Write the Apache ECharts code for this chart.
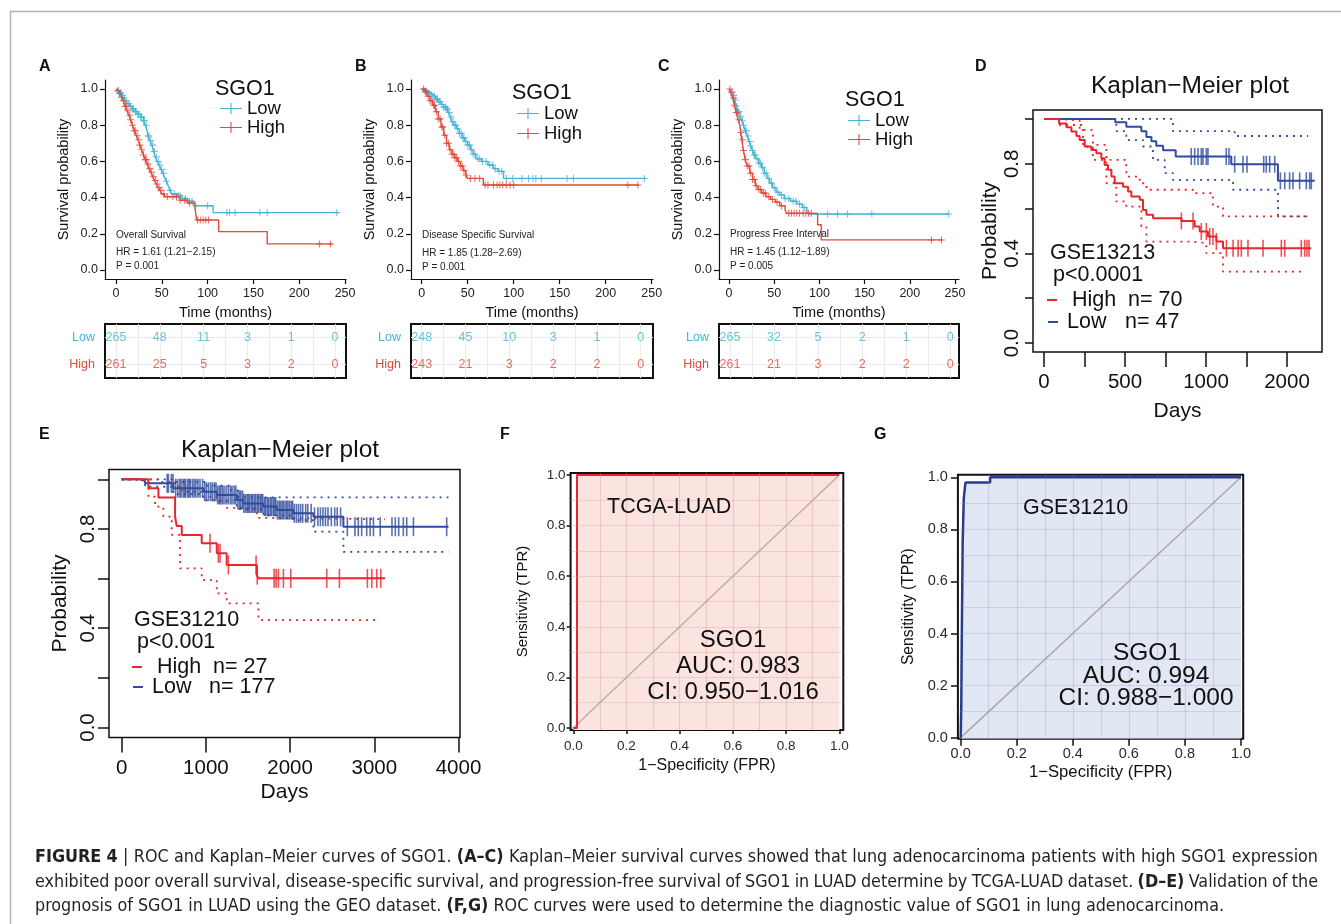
<!DOCTYPE html>
<html><head><meta charset="utf-8">
<script src="https://cdn.jsdelivr.net/npm/echarts@6/dist/echarts.min.js"></script>
<style>html,body{margin:0;padding:0;background:#fff}#c{width:1341px;height:924px}</style>
</head><body><div id="c"></div>
<script>
// ---------------- DATA ----------------
// Panels A-C (TCGA-LUAD, months): [time, survival] step points
const A_LOW = [[0,1],[2,0.99],[4,0.98],[6,0.965],[8,0.95],[10,0.935],[12,0.92],[15,0.905],[18,0.89],[21,0.875],[24,0.86],[27,0.845],[30,0.825],[32,0.80],[34,0.77],[35,0.74],[37,0.715],[39,0.69],[41,0.655],[43,0.625],[45,0.60],[47,0.58],[49,0.555],[51,0.535],[53,0.51],[55,0.49],[57,0.465],[59,0.44],[61,0.42],[66,0.41],[72,0.395],[78,0.38],[85,0.355],[106,0.317],[243,0.317]];
const A_HIGH = [[0,1],[2,0.99],[4,0.975],[6,0.955],[8,0.935],[10,0.905],[12,0.88],[14,0.855],[16,0.83],[18,0.80],[20,0.77],[22,0.745],[24,0.72],[26,0.69],[28,0.665],[30,0.635],[32,0.61],[34,0.585],[36,0.56],[38,0.54],[40,0.515],[42,0.495],[44,0.475],[46,0.455],[48,0.44],[50,0.42],[53,0.405],[70,0.385],[78,0.37],[86,0.35],[88,0.276],[112,0.212],[165,0.144],[236,0.144]];
const A_LOW_CENS = [3,5,7,9,11,12,14,16,18,19,21,22,24,25,27,28,30,31,33,35,36,38,40,42,44,46,48,50,52,55,59,64,68,70,76,80,83,87,100,121,124,130,157,165,241];
const A_HIGH_CENS = [2,4,6,8,10,11,13,15,16,18,20,21,23,25,26,28,30,32,33,35,37,39,41,43,45,47,49,52,56,62,66,70,75,80,89,92,95,98,101,222,234];
const A_RISK_LOW = [265,48,11,3,1,0];
const A_RISK_HIGH = [261,25,5,3,2,0];

const B_LOW = [[0,1],[3,0.99],[6,0.98],[9,0.97],[12,0.96],[15,0.945],[18,0.93],[21,0.915],[24,0.90],[27,0.89],[29,0.87],[31,0.845],[33,0.82],[35,0.80],[38,0.78],[41,0.755],[44,0.73],[47,0.71],[50,0.69],[53,0.665],[56,0.64],[59,0.615],[65,0.60],[72,0.58],[78,0.56],[83,0.545],[89,0.506],[243,0.506]];
const B_HIGH = [[0,1],[3,0.985],[6,0.96],[9,0.935],[12,0.91],[15,0.875],[18,0.835],[21,0.79],[24,0.745],[27,0.70],[30,0.665],[33,0.64],[36,0.62],[39,0.60],[42,0.575],[45,0.55],[48,0.525],[50,0.506],[67,0.47],[236,0.47]];
const B_LOW_CENS = [4,6,8,10,12,14,16,17,19,20,22,24,26,27,28,30,32,34,36,37,39,41,43,45,46,48,50,52,54,56,58,61,63,66,70,74,77,80,84,87,92,99,109,116,121,124,130,158,165,242];
const B_HIGH_CENS = [2,4,5,7,9,11,13,14,16,18,20,22,23,25,27,29,31,33,35,36,38,40,42,44,46,48,53,58,63,69,72,78,82,85,88,92,96,100,224,235];
const B_RISK_LOW = [248,45,10,3,1,0];
const B_RISK_HIGH = [243,21,3,2,2,0];

const C_LOW = [[0,1],[2,0.985],[4,0.965],[6,0.94],[8,0.905],[10,0.875],[12,0.85],[14,0.825],[16,0.80],[18,0.77],[20,0.74],[22,0.71],[24,0.685],[26,0.66],[28,0.635],[30,0.615],[33,0.59],[36,0.565],[39,0.535],[42,0.505],[45,0.48],[48,0.455],[52,0.43],[56,0.415],[61,0.395],[68,0.38],[75,0.365],[81,0.345],[86,0.33],[88,0.309],[243,0.309]];
const C_HIGH = [[0,1],[2,0.98],[4,0.95],[6,0.91],[8,0.87],[10,0.83],[12,0.80],[13,0.76],[14,0.72],[16,0.66],[18,0.61],[20,0.575],[23,0.535],[26,0.50],[29,0.465],[32,0.445],[36,0.425],[41,0.405],[46,0.39],[51,0.375],[56,0.355],[62,0.33],[64,0.313],[98,0.25],[102,0.166],[236,0.166]];
const C_LOW_CENS = [3,5,7,8,10,11,13,15,16,18,19,21,23,24,26,28,29,31,33,35,37,39,41,44,47,50,54,58,62,66,71,74,78,83,109,120,131,158,243];
const C_HIGH_CENS = [1,3,5,6,8,9,11,13,15,16,18,20,22,24,26,28,30,33,35,38,40,44,48,53,58,66,69,72,75,78,82,85,88,91,224,235];
const C_RISK_LOW = [265,32,5,2,1,0];
const C_RISK_HIGH = [261,21,3,2,2,0];

const KM_XTICKS = [0,50,100,150,200,250];
const KM_YTICKS = [0,0.2,0.4,0.6,0.8,1.0];
const RISK_TIMES = [0,50,100,150,200,250];
const RISK_GRID = [0,25,50,75,100,125,150,175,200,225,250];
const RISK_ROWS = ['High','Low'];

// Panel D (GSE13213)
const D_LOW = [[0,1.0],[440,0.985],[508,0.965],[601,0.945],[632,0.92],[663,0.90],[693,0.88],[735,0.86],[813,0.832],[1156,0.798],[1444,0.724],[1671,0.724]];
const D_HIGH = [[0,1.0],[93,0.98],[138,0.963],[169,0.944],[200,0.924],[220,0.906],[251,0.877],[292,0.862],[323,0.847],[354,0.825],[374,0.795],[395,0.773],[416,0.743],[436,0.713],[488,0.698],[519,0.676],[539,0.654],[591,0.639],[611,0.594],[632,0.572],[673,0.557],[848,0.545],[930,0.520],[961,0.498],[1012,0.475],[1064,0.453],[1105,0.423],[1650,0.423]];
const D_LOW_CENS = [909,930,951,971,981,1002,1012,1125,1142,1177,1228,1253,1356,1372,1393,1424,1459,1486,1516,1537,1578,1619,1640,1650];
const D_HIGH_CENS = [848,920,971,1002,1023,1043,1064,1126,1167,1198,1218,1259,1352,1465,1486,1588,1609,1623,1636];
const D_LOW_UP = [[0,1.0],[796,0.946],[1177,0.924],[1630,0.924]];
const D_LOW_LO = [[0,1.0],[446,0.946],[508,0.906],[611,0.877],[673,0.817],[745,0.758],[796,0.728],[1167,0.684],[1444,0.565],[1630,0.565]];
const D_HIGH_UP = [[0,1.0],[97,0.993],[220,0.951],[302,0.884],[385,0.817],[508,0.743],[591,0.713],[632,0.684],[920,0.669],[1043,0.609],[1105,0.565],[1630,0.565]];
const D_HIGH_LO = [[0,1.0],[97,0.973],[241,0.877],[302,0.817],[385,0.713],[446,0.632],[508,0.609],[601,0.520],[632,0.453],[899,0.446],[1002,0.401],[1105,0.319],[1599,0.319]];
const D_XTICKS = [0,250,500,750,1000,1250,1500];
const D_XLABEL_POS = [0,500,1000,1500];
const D_XLABELS = ['0','500','1000','2000'];
const KMP_YTICKS = [0,0.2,0.4,0.6,0.8,1.0];
const KMP_YLABELS = [0,0.4,0.8];

// Panel E (GSE31210)
const E_LOW = [[0,1.0],[218,0.993],[277,0.984],[614,0.964],[970,0.950],[1129,0.937],[1366,0.917],[1445,0.903],[1683,0.890],[1841,0.876],[2039,0.863],[2277,0.849],[2633,0.809],[3881,0.809]];
const E_HIGH = [[0,1.0],[317,0.964],[436,0.927],[634,0.849],[653,0.812],[713,0.776],[950,0.742],[1129,0.702],[1247,0.655],[1604,0.614],[1624,0.601],[3128,0.601]];
const E_LOW_CENS = [540,555,590,610,640,665,690,705,730,748,760,785,800,815,840,860,880,905,930,960,985,1005,1030,1055,1075,1100,1120,1140,1160,1175,1195,1215,1240,1265,1290,1310,1335,1355,1380,1400,1415,1435,1450,1470,1490,1505,1520,1540,1555,1575,1590,1610,1625,1645,1660,1675,1695,1710,1730,1745,1765,1780,1800,1815,1830,1850,1870,1885,1905,1920,1940,1960,1975,1995,2015,2030,2050,2075,2100,2125,2150,2185,2210,2250,2290,2330,2360,2390,2420,2450,2490,2530,2560,2600,2680,2770,2810,2850,2910,2950,2990,3070,3210,3250,3290,3345,3385,3465,3860];
const E_HIGH_CENS = [1049,1148,1168,1267,1596,1610,1810,1834,1861,1921,2008,2435,2586,2918,2970,3029,3077];
const E_LOW_UP = [[0,1.0],[614,0.99],[1000,0.975],[1300,0.955],[1386,0.927],[3881,0.927]];
const E_LOW_LO = [[0,1.0],[277,0.97],[614,0.94],[970,0.915],[1366,0.88],[1683,0.855],[2039,0.835],[2277,0.789],[2633,0.708],[3881,0.708]];
const E_HIGH_UP = [[0,1.0],[436,0.99],[634,0.97],[713,0.95],[950,0.93],[1129,0.91],[1247,0.885],[1604,0.845],[1624,0.839],[3128,0.839]];
const E_HIGH_LO = [[0,1.0],[317,0.93],[396,0.89],[495,0.85],[594,0.776],[693,0.641],[950,0.594],[1129,0.54],[1247,0.50],[1624,0.433],[3049,0.433]];
const E_XTICKS = [0,1000,2000,3000,4000];

// Panels F, G (ROC)
const F_ROC = [[0,0],[0.014,0],[0.014,1],[1,1]];
const G_ROC = [[0,0],[0.002,0.12],[0.004,0.40],[0.007,0.75],[0.011,0.92],[0.017,0.98],[0.105,0.98],[0.105,1.0],[1,1]];
const DIAG = [[0,0],[1,1]];
const ROC_TICKS = [0,0.2,0.4,0.6,0.8,1.0];
const ROC_GRIDLINES = [0.1,0.2,0.3,0.4,0.5,0.6,0.7,0.8,0.9];

// Caption
const CAPTION = [
  [['FIGURE 4',true],['| ROC and Kaplan–Meier curves of SGO1.',false],['(A–C)',true],['Kaplan–Meier survival curves showed that lung adenocarcinoma patients with high SGO1 expression',false]],
  [['exhibited poor overall survival, disease-specific survival, and progression-free survival of SGO1 in LUAD determine by TCGA-LUAD dataset.',false],['(D–E)',true],['Validation of the',false]],
  [['prognosis of SGO1 in LUAD using the GEO dataset.',false],['(F,G)',true],['ROC curves were used to determine the diagnostic value of SGO1 in lung adenocarcinoma.',false]]
];

// ---------------- STYLE ----------------
const FF = '"Liberation Sans", Arial, Helvetica, sans-serif';
const CYAN = '#46B3D3', RED = '#E2493A', KRED = '#E8262B', KBLUE = '#2F4C9E', INK = '#111';
const PLUS = 'path://M-1,-0.15L1,-0.15L1,0.15L-1,0.15Z M-0.15,-1L0.15,-1L0.15,1L-0.15,1Z';
const LEG_ICON = 'path://M0,9L40,9L40,11L0,11Z M19,0L21,0L21,20L19,20Z';

function stepAt(curve, t) { let s = curve[0][1]; for (const p of curve) { if (p[0] <= t) s = p[1]; else break; } return s; }

const grids = [], xAxes = [], yAxes = [], series = [], legends = [], graphics = [];

function txt(text, x, y, size, color, align, bold) {
  return {type: 'text', x, y, z: 100, silent: true,
    style: {text, fill: color || INK, font: (bold ? 'bold ' : '') + size + 'px ' + FF,
      align: align || 'left', textAlign: align || 'left', verticalAlign: 'middle', textVerticalAlign: 'middle'}};
}
function dash(x1, x2, y, color) {
  return {type: 'line', z: 100, silent: true, shape: {x1, y1: y, x2, y2: y}, style: {stroke: color, lineWidth: 2}};
}

function kmPanel(g, cfg) {
  const gi = grids.length;
  grids.push({left: cfg.left, top: 80, width: cfg.width, height: 199});
  xAxes.push({gridIndex: gi, type: 'value', min: cfg.xmin, max: cfg.xmax,
    name: 'Time (months)', nameLocation: 'middle', nameGap: 26,
    nameTextStyle: {fontFamily: FF, fontSize: 14.5, color: INK},
    axisLine: {show: true, onZero: false, lineStyle: {color: INK, width: 1.2}},
    axisTick: {show: true, length: 5, customValues: KM_XTICKS, lineStyle: {color: INK, width: 1.2}},
    axisLabel: {customValues: KM_XTICKS, margin: 8, fontFamily: FF, fontSize: 12.5, color: '#222'},
    splitLine: {show: false}});
  yAxes.push({gridIndex: gi, type: 'value', min: -0.05, max: 1.05,
    name: 'Survival probability', nameLocation: 'middle', nameGap: 34,
    nameTextStyle: {fontFamily: FF, fontSize: 14.5, color: INK},
    axisLine: {show: true, onZero: false, lineStyle: {color: INK, width: 1.2}},
    axisTick: {show: true, length: 5, customValues: KM_YTICKS, lineStyle: {color: INK, width: 1.2}},
    axisLabel: {customValues: KM_YTICKS, margin: 7, formatter: v => v.toFixed(1), fontFamily: FF, fontSize: 12.5, color: '#222'},
    splitLine: {show: false}});
  const add = (name, curve, cens, color) => {
    series.push({type: 'line', name, xAxisIndex: gi, yAxisIndex: gi, data: curve, step: 'end', showSymbol: false,
      lineStyle: {color, width: 1.4}, itemStyle: {color}, silent: true, z: 3});
    series.push({type: 'scatter', name, xAxisIndex: gi, yAxisIndex: gi, data: cens.map(t => [t, stepAt(curve, t)]),
      symbol: PLUS, symbolSize: 7, itemStyle: {color}, silent: true, z: 4});
  };
  add('Low', cfg.low, cfg.lowCens, CYAN);
  add('High', cfg.high, cfg.highCens, RED);

  // risk table (own x scale, as in survminer)
  const ri = grids.length;
  grids.push({left: cfg.left, top: 324, width: cfg.width, height: 54, show: true, borderColor: INK, borderWidth: 2, backgroundColor: 'rgba(0,0,0,0)'});
  xAxes.push({gridIndex: ri, type: 'value', min: cfg.rmin, max: cfg.rmax, show: false, splitLine: {show: false}});
  yAxes.push({gridIndex: ri, type: 'category', data: RISK_ROWS,
    axisLine: {show: false}, axisTick: {show: false}, splitLine: {show: false},
    axisLabel: {margin: 10, fontFamily: FF, fontSize: 12.5, color: v => (v === 'Low' ? CYAN : RED)}});
  const rows = [['Low', cfg.riskLow, CYAN], ['High', cfg.riskHigh, RED]];
  rows.forEach(([row, vals, color], k) => {
    series.push({type: 'scatter', name: 'risk-' + row + g, xAxisIndex: ri, yAxisIndex: ri,
      data: RISK_TIMES.map((t, i) => [t, row, vals[i]]), symbolSize: 0, silent: true,
      label: {show: true, position: 'inside', formatter: p => String(p.value[2]), fontFamily: FF, fontSize: 12.5, color},
      markLine: k === 0 ? {silent: true, symbol: 'none', label: {show: false}, animation: false,
        lineStyle: {color: '#EBEBEB', type: 'solid', width: 1},
        data: RISK_GRID.map(v => ({xAxis: v})).concat(RISK_ROWS.map(r => ({yAxis: r})))} : undefined,
      z: 5});
  });
  legends.push({orient: 'vertical', left: cfg.legLeft, top: cfg.legTop, padding: 0, itemWidth: 22, itemHeight: 11, itemGap: cfg.legGap,
    symbolKeepAspect: false, selectedMode: false,
    data: [{name: 'Low', icon: LEG_ICON}, {name: 'High', icon: LEG_ICON}],
    textStyle: {fontFamily: FF, fontSize: 18.5, color: INK, lineHeight: 18}});
  graphics.push(txt('SGO1', cfg.titleX, cfg.titleY, 21.5));
  cfg.note.forEach((s, i) => graphics.push(txt(s, cfg.noteX, cfg.noteY[i], 10, '#222')));
}

kmPanel('A', {left: 105, width: 241, xmin: -12, xmax: 251, rmin: -12.6, rmax: 262.6,
  low: A_LOW, high: A_HIGH, lowCens: A_LOW_CENS, highCens: A_HIGH_CENS,
  riskLow: A_RISK_LOW, riskHigh: A_RISK_HIGH, legLeft: 220, legTop: 99, legGap: 0, titleX: 215, titleY: 89,
  note: ['Overall Survival', 'HR = 1.61 (1.21−2.15)', 'P = 0.001'], noteX: 116, noteY: [235, 252, 266]});
kmPanel('B', {left: 411, width: 242, xmin: -11.6, xmax: 251.4, rmin: -12.2, rmax: 264,
  low: B_LOW, high: B_HIGH, lowCens: B_LOW_CENS, highCens: B_HIGH_CENS,
  riskLow: B_RISK_LOW, riskHigh: B_RISK_HIGH, legLeft: 517, legTop: 104, legGap: 1, titleX: 512, titleY: 93,
  note: ['Disease Specific Survival', 'HR = 1.85 (1.28−2.69)', 'P = 0.001'], noteX: 422, noteY: [235, 253, 267]});
kmPanel('C', {left: 719, width: 240, xmin: -11.1, xmax: 254.4, rmin: -12.5, rmax: 260,
  low: C_LOW, high: C_HIGH, lowCens: C_LOW_CENS, highCens: C_HIGH_CENS,
  riskLow: C_RISK_LOW, riskHigh: C_RISK_HIGH, legLeft: 848, legTop: 111, legGap: 0, titleX: 845, titleY: 100,
  note: ['Progress Free Interval', 'HR = 1.45 (1.12−1.89)', 'P = 0.005'], noteX: 730, noteY: [234, 252, 266]});

function kmpPanel(tag, cfg) {
  const gi = grids.length;
  grids.push({left: cfg.left, top: cfg.top, width: cfg.width, height: cfg.height, show: true, borderColor: INK, borderWidth: 1.5, backgroundColor: 'rgba(0,0,0,0)'});
  xAxes.push({gridIndex: gi, type: 'value', min: cfg.xmin, max: cfg.xmax,
    name: 'Days', nameLocation: 'middle', nameGap: cfg.xNameGap, nameTextStyle: {fontFamily: FF, fontSize: 21, color: INK},
    axisLine: {show: false, onZero: false}, splitLine: {show: false},
    axisTick: {show: true, length: 15, customValues: cfg.xticks, lineStyle: {color: INK, width: 1.5}},
    axisLabel: {customValues: cfg.xlabelPos, formatter: cfg.xfmt, margin: 20, fontFamily: FF, fontSize: 20.5, color: INK}});
  yAxes.push({gridIndex: gi, type: 'value', min: -0.04, max: 1.04,
    name: 'Probability', nameLocation: 'middle', nameGap: cfg.yNameGap, nameTextStyle: {fontFamily: FF, fontSize: 21, color: INK},
    axisLine: {show: false, onZero: false}, splitLine: {show: false},
    axisTick: {show: true, length: cfg.yTick, customValues: KMP_YTICKS, lineStyle: {color: INK, width: 1.5}},
    axisLabel: {customValues: KMP_YLABELS, rotate: 90, formatter: v => v.toFixed(1), margin: cfg.yLabMargin, fontFamily: FF, fontSize: 20.5, color: INK}});
  const line = (name, data, color, dotted) => series.push({type: 'line', name, xAxisIndex: gi, yAxisIndex: gi, data, step: 'end', showSymbol: false, silent: true,
    lineStyle: {color, width: dotted ? 1.8 : 2, type: dotted ? [2, 5] : 'solid'}, itemStyle: {color}, z: dotted ? 2 : 3});
  const cens = (name, curve, ts, color) => series.push({type: 'scatter', name, xAxisIndex: gi, yAxisIndex: gi,
    data: ts.map(t => [t, stepAt(curve, t)]), symbol: 'rect', symbolSize: [1.6, cfg.censH], itemStyle: {color}, silent: true, z: 4});
  line(tag + ' Low up', cfg.lowUp, KBLUE, true);
  line(tag + ' Low lo', cfg.lowLo, KBLUE, true);
  line(tag + ' High up', cfg.highUp, KRED, true);
  line(tag + ' High lo', cfg.highLo, KRED, true);
  line(tag + ' Low', cfg.low, KBLUE, false);
  line(tag + ' High', cfg.high, KRED, false);
  cens(tag + ' Low c', cfg.low, cfg.lowCens, KBLUE);
  cens(tag + ' High c', cfg.high, cfg.highCens, KRED);
}

kmpPanel('D', {left: 1033, top: 110, width: 289, height: 242, xmin: -68, xmax: 1716,
  xticks: D_XTICKS, xlabelPos: D_XLABEL_POS, xfmt: v => D_XLABELS[D_XLABEL_POS.indexOf(v)],
  xNameGap: 49, yNameGap: 32, yTick: 8, yLabMargin: 10, censH: 17,
  low: D_LOW, high: D_HIGH, lowCens: D_LOW_CENS, highCens: D_HIGH_CENS,
  lowUp: D_LOW_UP, lowLo: D_LOW_LO, highUp: D_HIGH_UP, highLo: D_HIGH_LO});
kmpPanel('E', {left: 109, top: 469.4, width: 351, height: 268, xmin: -151, xmax: 4018,
  xticks: E_XTICKS, xlabelPos: E_XTICKS, xfmt: v => String(v),
  xNameGap: 44, yNameGap: 38, yTick: 11, yLabMargin: 10, censH: 19,
  low: E_LOW, high: E_HIGH, lowCens: E_LOW_CENS, highCens: E_HIGH_CENS,
  lowUp: E_LOW_UP, lowLo: E_LOW_LO, highUp: E_HIGH_UP, highLo: E_HIGH_LO});

function rocPanel(tag, cfg) {
  const gi = grids.length;
  grids.push({left: cfg.left, top: cfg.top, width: cfg.width, height: cfg.height, show: true, borderColor: INK, borderWidth: 2, backgroundColor: '#fff'});
  xAxes.push({gridIndex: gi, type: 'value', min: cfg.xmin, max: cfg.xmax,
    name: '1−Specificity (FPR)', nameLocation: 'middle', nameGap: cfg.xNameGap, nameTextStyle: {fontFamily: FF, fontSize: cfg.nameSize + 1, color: INK},
    axisLine: {show: false, onZero: false}, splitLine: {show: false},
    axisTick: {show: true, length: cfg.tick, customValues: ROC_TICKS, lineStyle: {color: INK, width: 1.5}},
    axisLabel: {customValues: ROC_TICKS, formatter: v => v.toFixed(1), margin: cfg.xLabMargin, fontFamily: FF, fontSize: cfg.labSize, color: '#2a2a2a'}});
  yAxes.push({gridIndex: gi, type: 'value', min: cfg.ymin, max: cfg.ymax,
    name: 'Sensitivity (TPR)', nameLocation: 'middle', nameGap: cfg.yNameGap, nameTextStyle: {fontFamily: FF, fontSize: cfg.nameSize, color: INK},
    axisLine: {show: false, onZero: false}, splitLine: {show: false},
    axisTick: {show: true, length: cfg.tick, customValues: ROC_TICKS, lineStyle: {color: INK, width: 1.5}},
    axisLabel: {customValues: ROC_TICKS, formatter: v => v.toFixed(1), margin: cfg.yLabMargin, fontFamily: FF, fontSize: cfg.labSize, color: '#2a2a2a'}});
  series.push({type: 'line', name: tag + ' area', xAxisIndex: gi, yAxisIndex: gi, data: cfg.roc, showSymbol: false, silent: true,
    lineStyle: {width: 0}, areaStyle: {color: cfg.fill, opacity: 1, origin: 'start'}, z: 1});
  series.push({type: 'line', name: tag + ' diag', xAxisIndex: gi, yAxisIndex: gi, data: DIAG, showSymbol: false, silent: true,
    lineStyle: {color: cfg.diag, width: 1.5}, z: 3,
    markLine: {silent: true, symbol: 'none', label: {show: false}, animation: false,
      lineStyle: {color: cfg.gridCol, type: 'solid', width: 1.2},
      data: ROC_GRIDLINES.map(v => ({xAxis: v})).concat(ROC_GRIDLINES.map(v => ({yAxis: v})))}});
  series.push({type: 'line', name: tag + ' ROC', xAxisIndex: gi, yAxisIndex: gi, data: cfg.roc, showSymbol: false, silent: true,
    lineStyle: {color: cfg.line, width: cfg.lineW}, z: 4});
}
rocPanel('F', {left: 570.6, top: 473, width: 272.7, height: 257, xmin: -0.01, xmax: 1.015, ymin: -0.008, ymax: 1.008,
  roc: F_ROC, fill: '#FBE3E0', gridCol: 'rgba(200,150,130,0.30)', diag: '#BCAFA8', line: '#E8262B', lineW: 2,
  tick: 4, xLabMargin: 9, yLabMargin: 5, labSize: 13.5, nameSize: 15, xNameGap: 28, yNameGap: 40});
rocPanel('G', {left: 957.9, top: 474.7, width: 285.3, height: 264, xmin: -0.01, xmax: 1.008, ymin: -0.004, ymax: 1.01,
  roc: G_ROC, fill: '#E2E7F4', gridCol: 'rgba(140,150,185,0.28)', diag: '#A9A9B2', line: '#2A3C90', lineW: 2.5,
  tick: 7, xLabMargin: 8, yLabMargin: 10, labSize: 14.5, nameSize: 15.7, xNameGap: 25, yNameGap: 41});

// ---- annotations ----
[['A',39,67],['B',355,67],['C',658,67],['D',975,67],['E',39,435],['F',500,435],['G',874,435]].forEach(([t,x,y]) => graphics.push(txt(t, x, y, 16, INK, 'left', true)));
graphics.push(txt('Kaplan−Meier plot', 1190, 86, 24.5, INK, 'center'));
graphics.push(txt('Kaplan−Meier plot', 280, 450, 24.5, INK, 'center'));
graphics.push(txt('GSE13213', 1050, 253, 21.5));
graphics.push(txt('p<0.0001', 1053, 275, 21.5));
graphics.push(dash(1047, 1057, 300, KRED));
graphics.push(txt('High', 1072, 300, 21.5));
graphics.push(txt('n= 70', 1128, 300, 21.5));
graphics.push(dash(1048, 1058, 322, KBLUE));
graphics.push(txt('Low', 1067, 322, 21.5));
graphics.push(txt('n= 47', 1125, 322, 21.5));
graphics.push(txt('GSE31210', 134, 620, 21.5));
graphics.push(txt('p<0.001', 137, 642, 21.5));
graphics.push(dash(132, 142, 667, KRED));
graphics.push(txt('High', 157, 667, 21.5));
graphics.push(txt('n= 27', 213, 667, 21.5));
graphics.push(dash(133, 143, 687, KBLUE));
graphics.push(txt('Low', 152, 687, 21.5));
graphics.push(txt('n= 177', 209, 687, 21.5));
graphics.push(txt('TCGA-LUAD', 607, 507, 21.5));
graphics.push(txt('SGO1', 733, 640, 24, INK, 'center'));
graphics.push(txt('AUC: 0.983', 738, 666, 24, INK, 'center'));
graphics.push(txt('CI: 0.950−1.016', 733, 692, 24, INK, 'center'));
graphics.push(txt('GSE31210', 1023, 508, 21.5));
graphics.push(txt('SGO1', 1147, 653, 24.5, INK, 'center'));
graphics.push(txt('AUC: 0.994', 1146, 676, 24.5, INK, 'center'));
graphics.push(txt('CI: 0.988−1.000', 1146, 698, 24.5, INK, 'center'));
graphics.push({type: 'rect', z: 0, silent: true, shape: {x: 10.5, y: 11.5, width: 1400, height: 1000}, style: {fill: 'none', stroke: '#B4B4B4', lineWidth: 1.5}});

// ---- caption (justified) ----
(function () {
  const ctx = document.createElement('canvas').getContext('2d');
  const probe = 'abcdefghijklmnopqrstuvwxyz ABCDEFG 0123456789';
  ctx.font = '40px monospace'; const base = ctx.measureText(probe).width;
  let fam = null;
  for (const f of ['Liberation Sans Narrow', 'DejaVu Sans Condensed', 'Roboto Condensed']) {
    ctx.font = '40px "' + f + '", monospace';
    if (Math.abs(ctx.measureText(probe).width - base) > 0.5) { fam = f; break; }
  }
  const famCSS = (fam ? '"' + fam + '", ' : '') + '"Liberation Sans", sans-serif';
  const fontOf = (b, s) => (b ? 'bold ' : '') + s + 'px ' + famCSS;
  const words = CAPTION.map(line => {
    const out = [];
    line.forEach(([t, b]) => t.split(' ').forEach(w => { if (w) out.push([w, b]); }));
    return out;
  });
  const measure = (ws, s) => {
    let sum = 0; ws.forEach(([w, b]) => { ctx.font = fontOf(b, s); sum += ctx.measureText(w).width; });
    ctx.font = fontOf(false, s); return {sum, space: ctx.measureText(' ').width};
  };
  const m20 = measure(words[2], 20);
  const nat20 = m20.sum + m20.space * (words[2].length - 1);
  const size = 20 * 1190 / nat20;
  const X0 = 35, FULLW = 1283, ys = [857, 882, 906];
  words.forEach((ws, li) => {
    const m = measure(ws, size);
    const gap = li < 2 ? (FULLW - m.sum) / (ws.length - 1) : m.space;
    let x = X0;
    ws.forEach(([w, b]) => {
      ctx.font = fontOf(b, size);
      graphics.push({type: 'text', x, y: ys[li], z: 100, silent: true,
        style: {text: w, fill: '#231F20', font: fontOf(b, size), align: 'left', textAlign: 'left', verticalAlign: 'middle', textVerticalAlign: 'middle'}});
      x += ctx.measureText(w).width + gap;
    });
  });
})();

const chart = echarts.init(document.getElementById('c'), null, {renderer: 'canvas'});
chart.setOption({
  animation: false,
  backgroundColor: '#fff',
  textStyle: {fontFamily: FF},
  grid: grids, xAxis: xAxes, yAxis: yAxes, series, legend: legends, graphic: graphics
});
</script></body></html>
